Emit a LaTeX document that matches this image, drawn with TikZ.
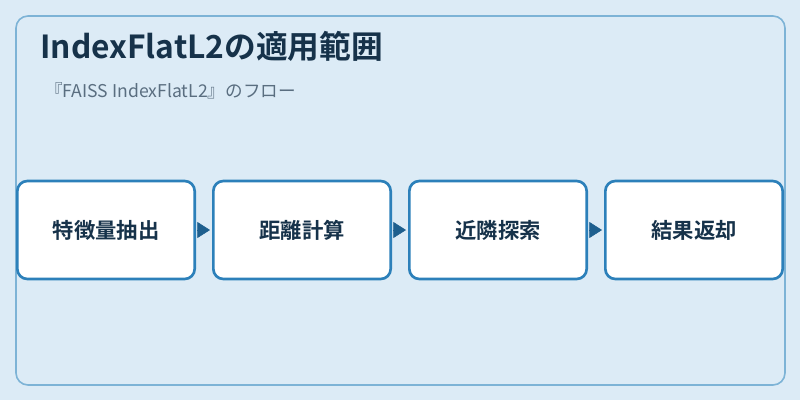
\documentclass[tikz,border=0pt]{standalone}
\usepackage{fontspec}
\usepackage{tikz}
\usepackage{xcolor}
\usetikzlibrary{positioning,arrows.meta}
\setmainfont{Noto Sans CJK JP}
\newfontfamily\boldcjk{Noto Sans CJK JP Bold}
\definecolor{bgblue}{HTML}{DCEBF6}
\definecolor{frameblue}{HTML}{7DB3D6}
\definecolor{boxblue}{HTML}{2C80BA}
\definecolor{arrowblue}{HTML}{1E5F8E}
\definecolor{titlenavy}{HTML}{16324A}
\definecolor{subgray}{HTML}{5A6E80}

\begin{document}
\begin{tikzpicture}[x=0.75pt, y=-0.75pt,
  stepbox/.style={draw=boxblue, line width=2pt, fill=white, rounded corners=7.5pt,
    minimum width=133pt, minimum height=73.5pt, font=\boldcjk\fontsize{16}{16}\selectfont,
    text=titlenavy},
  flow/.style={draw=arrowblue, line width=0.4pt, shorten <=1.5pt, shorten >=1.5pt,
    -{Triangle[length=9.5pt, width=12pt]}}]
  \fill[bgblue] (0,0) rectangle (800,400);
  \draw[frameblue, line width=1.2pt, rounded corners=9pt] (16,16) rectangle (785,385);
  \node[anchor=base west, inner sep=0pt, text=titlenavy, font=\boldcjk\fontsize{23.8}{24}\selectfont] (title) at (40,58) {IndexFlatL2の適用範囲};
  \node[anchor=base west, inner sep=0pt, text=subgray, font=\fontsize{13.2}{14}\selectfont] (subtitle) at (45,97) {『FAISS IndexFlatL2』のフロー};
  \node[stepbox] (extract) at (106,230) {特徴量抽出};
  \node[stepbox, right=12pt of extract] (distance) {距離計算};
  \node[stepbox, right=12pt of distance] (search) {近隣探索};
  \node[stepbox, right=12pt of search] (result) {結果返却};
  \draw[flow] (extract) -- (distance);
  \draw[flow] (distance) -- (search);
  \draw[flow] (search) -- (result);
\end{tikzpicture}
\end{document}
